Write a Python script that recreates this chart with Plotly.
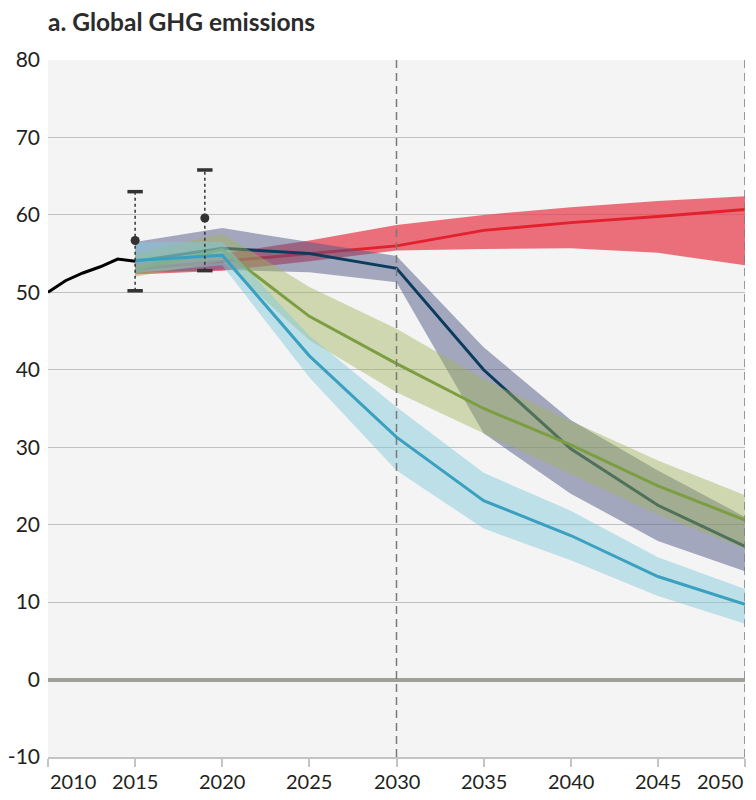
import plotly.graph_objects as go

# Historical global GHG emissions (GtCO2e/yr)
hist_years = [2010, 2011, 2012, 2013, 2014, 2015]
hist_ghg = [50.0, 51.5, 52.5, 53.3, 54.3, 54.0]

# Point estimates with uncertainty ranges
est_years = [2015, 2019]
est_mid = [56.7, 59.6]
est_low = [50.2, 52.8]
est_high = [63.0, 65.8]

# Scenario pathways: median and range
years = [2015, 2020, 2025, 2030, 2035, 2040, 2045, 2050]

red_mid = [53.0, 54.0, 55.0, 56.0, 58.0, 59.0, 59.8, 60.7]
red_low = [52.3, 52.8, 54.0, 55.4, 55.6, 55.7, 55.1, 53.5]
red_high = [53.8, 55.0, 56.7, 58.7, 60.0, 61.0, 61.8, 62.4]

navy_mid = [54.0, 55.7, 55.0, 53.1, 40.0, 29.8, 22.5, 17.2]
navy_low = [52.5, 52.9, 52.6, 51.3, 31.8, 24.0, 17.9, 14.0]
navy_high = [56.5, 58.3, 56.5, 54.7, 42.9, 33.5, 27.0, 21.0]

green_mid = [53.0, 55.5, 46.9, 40.8, 35.0, 30.3, 25.0, 20.6]
green_low = [52.0, 54.0, 43.8, 37.1, 31.8, 26.5, 21.3, 16.9]
green_high = [55.0, 57.6, 50.7, 45.3, 38.8, 33.4, 28.3, 23.8]

blue_mid = [54.1, 54.8, 41.8, 31.3, 23.1, 18.6, 13.3, 9.7]
blue_low = [52.5, 53.5, 39.0, 27.0, 19.5, 15.4, 10.8, 7.2]
blue_high = [56.5, 56.5, 44.4, 35.2, 26.7, 21.8, 15.8, 11.7]

x_ticks = [2010, 2015, 2020, 2025, 2030, 2035, 2040, 2045, 2050]
y_ticks = [-10, 0, 10, 20, 30, 40, 50, 60, 70, 80]

FONT = "Lato"
TEXT = "#231f20"

scenarios = [
    (red_mid, red_low, red_high, "#e3202e", "rgba(230,60,75,0.72)"),
    (navy_mid, navy_low, navy_high, "#0d3b5e", "rgba(80,90,135,0.5)"),
    (green_mid, green_low, green_high, "#7c9e42", "rgba(160,180,90,0.45)"),
    (blue_mid, blue_low, blue_high, "#3aa0c0", "rgba(130,200,220,0.48)"),
]

fig = go.Figure()

for mid, low, high, line_col, band_col in scenarios:
    fig.add_trace(go.Scatter(
        x=years + years[::-1], y=high + low[::-1],
        fill="toself", fillcolor=band_col, mode="lines",
        line=dict(width=0), hoverinfo="skip", showlegend=False))
    fig.add_trace(go.Scatter(
        x=years, y=mid, mode="lines",
        line=dict(color=line_col, width=3), showlegend=False))

fig.add_trace(go.Scatter(
    x=hist_years, y=hist_ghg, mode="lines",
    line=dict(color="#000000", width=3), showlegend=False))

# Uncertainty whiskers (dotted) with caps and central dots
wx, wy = [], []
for yr, lo, hi in zip(est_years, est_low, est_high):
    wx += [yr, yr, None]
    wy += [lo, hi, None]
fig.add_trace(go.Scatter(
    x=wx, y=wy, mode="lines",
    line=dict(color="#333333", width=1.5, dash="dot"), showlegend=False))
fig.add_trace(go.Scatter(
    x=est_years + est_years, y=est_low + est_high, mode="markers",
    marker=dict(symbol="line-ew", size=11, line=dict(color="#333333", width=3.5)),
    showlegend=False))
fig.add_trace(go.Scatter(
    x=est_years, y=est_mid, mode="markers",
    marker=dict(color="#333333", size=9), showlegend=False))

for yr in [2030, 2050]:
    fig.add_shape(type="line", xref="x", yref="paper", x0=yr, x1=yr, y0=0, y1=1,
                  line=dict(color="#7a7a7a", width=1.5, dash="8px,5px"), layer="above")

# X tick labels; the outer ones are aligned inward
for i, yr in enumerate(x_ticks):
    anchor = "left" if i == 0 else ("right" if i == len(x_ticks) - 1 else "center")
    fig.add_annotation(x=yr, y=0, xref="x", yref="paper", text=str(yr),
                       showarrow=False, xanchor=anchor, yanchor="middle", yshift=-24,
                       font=dict(family=FONT, size=20, color=TEXT))

fig.update_layout(
    width=756, height=800,
    margin=dict(l=48, r=11, t=60, b=43),
    paper_bgcolor="white", plot_bgcolor="#f4f4f4",
    title=dict(text="<b>a. Global GHG emissions</b>", x=48 / 756, xanchor="left",
               y=1 - 22 / 800, yanchor="middle",
               font=dict(family=FONT, size=24.5, color="#2b2b2b")),
    showlegend=False,
)
fig.update_xaxes(range=[2010, 2050], tickvals=x_ticks, showticklabels=False,
                 automargin=False,
                 showgrid=False, zeroline=False, showline=True, linecolor="#c4c4c4",
                 linewidth=1.5, ticks="outside", ticklen=8, tickcolor="#c4c4c4", tickwidth=1.5)
fig.update_yaxes(range=[-10, 80], tickvals=y_ticks, ticktext=[str(v) for v in y_ticks],
                 automargin=False,
                 showgrid=True, gridcolor="#c0c0c0",
                 gridwidth=1, zeroline=True, zerolinecolor="#a09f9a", zerolinewidth=4,
                 ticks="", ticklabelstandoff=7,
                 tickfont=dict(family=FONT, size=21, color=TEXT))

fig.write_html("out.html")
